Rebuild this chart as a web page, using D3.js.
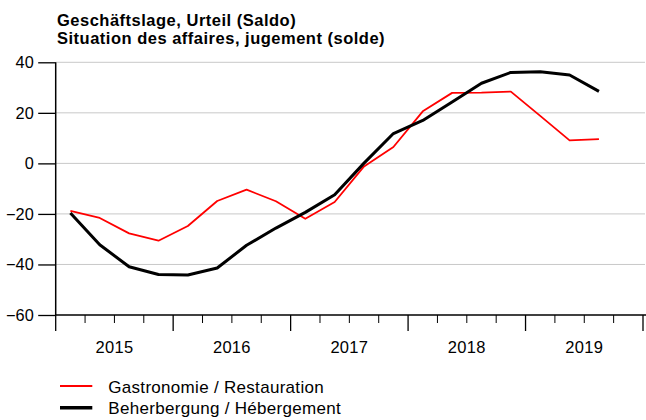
<!DOCTYPE html>
<html><head><meta charset="utf-8">
<script src="https://cdn.jsdelivr.net/npm/d3@7"></script>
<style>body{margin:0;background:#fff;}svg text{font-family:"Liberation Sans",Arial,sans-serif;}</style>
</head><body>
<svg id="c" width="646" height="420"></svg>
<script>
const quarters = ["2015Q1","2015Q2","2015Q3","2015Q4","2016Q1","2016Q2","2016Q3","2016Q4","2017Q1","2017Q2","2017Q3","2017Q4","2018Q1","2018Q2","2018Q3","2018Q4","2019Q1","2019Q2","2019Q3"];
const gastronomie = [-18.8,-21.6,-27.7,-30.6,-24.8,-14.9,-10.4,-15.0,-21.9,-15.3,-1.2,6.5,20.6,27.9,28.0,28.4,18.8,9.1,9.6];
const beherbergung = [-19.6,-32.2,-40.9,-44.0,-44.2,-41.4,-32.4,-25.6,-19.4,-12.4,0.1,11.8,17.0,24.3,31.7,36.0,36.3,35.0,28.5];
const years = ["2015","2016","2017","2018","2019"];
const yTicks = [40,20,0,-20,-40,-60];
const seriesNames = ["Gastronomie / Restauration","Beherbergung / Hébergement"];
const titleLines = ["Geschäftslage, Urteil (Saldo)","Situation des affaires, jugement (solde)"];

const svg = d3.select("#c");
const x0 = 55.7, x1 = 643, yTop = 62.3, yBot = 315;
const x = d3.scaleLinear().domain([0, 20]).range([x0, x1]);
const y = d3.scaleLinear().domain([-60, 40]).range([yBot, yTop]);

// title
svg.append("g").selectAll("text").data(titleLines).join("text")
  .attr("x", 57).attr("y", (d,i)=>25.5 + i*18.8)
  .style("font-size", "16.5px").style("letter-spacing","0.5px").style("font-weight", "bold")
  .attr("fill","#000").text(d=>d);

// gridlines
svg.append("g").selectAll("line").data(yTicks.filter(t=>t>-60)).join("line")
  .attr("x1", x0).attr("x2", 645).attr("y1", d=>y(d)).attr("y2", d=>y(d))
  .attr("stroke", "#c8c8c8").attr("stroke-width", 1);

// y axis
const yAxis = d3.axisLeft(y).tickValues(yTicks).tickSize(17.5).tickPadding(4.5)
  .tickFormat(d => d < 0 ? "\u2212" + Math.abs(d) : d);
const gy = svg.append("g").attr("transform", `translate(${x0},0)`).call(yAxis);
gy.select(".domain").remove();
gy.selectAll(".tick line").attr("stroke","#000").attr("stroke-width",1.3);
gy.selectAll(".tick text").style("font-size", "16.3px").attr("fill","#000")
  .style("font-family","Liberation Sans, Arial, sans-serif");
svg.append("line").attr("x1",x0).attr("x2",x0).attr("y1",yTop).attr("y2",yBot).attr("stroke","#000").attr("stroke-width",1.5);

// x axis
svg.append("line").attr("x1",x0).attr("x2",646).attr("y1",yBot).attr("y2",yBot).attr("stroke","#000").attr("stroke-width",1.5);
const qTicks = d3.range(0, 21);
svg.append("g").selectAll("line").data(qTicks).join("line")
  .attr("x1", d=>x(d)).attr("x2", d=>x(d))
  .attr("y1", yBot).attr("y2", d=> d%4===0 ? yBot+16 : yBot+8)
  .attr("stroke","#000").attr("stroke-width", d=> d%4===0 ? 1.3 : 1);
svg.append("g").selectAll("text").data(years).join("text")
  .attr("x", (d,i)=>x(i*4+2)).attr("y", 353.3).attr("text-anchor","middle")
  .style("font-size", "16.5px").style("letter-spacing","0.3px").attr("fill","#000").text(d=>d);

// lines
const line = d3.line().x((d,i)=>x(i+0.5)).y(d=>y(d));
svg.append("path").datum(gastronomie).attr("d", line).attr("fill","none")
  .attr("stroke","#ff0000").attr("stroke-width",1.8).attr("stroke-linejoin","round");
svg.append("path").datum(beherbergung).attr("d", line).attr("fill","none")
  .attr("stroke","#000").attr("stroke-width",3).attr("stroke-linejoin","round");

// legend
const colors = ["#ff0000","#000"];
const widths = [1.8,3.4];
const lg = svg.append("g");
seriesNames.forEach((n,i)=>{
  const yy = 386 + i*21.7;
  lg.append("line").attr("x1",60).attr("x2",92.3).attr("y1",yy).attr("y2",yy)
    .attr("stroke",colors[i]).attr("stroke-width",widths[i]);
  lg.append("text").attr("x",108.3).attr("y",yy+6.6).style("font-size","17px")
    .style("letter-spacing","0.3px").attr("fill","#000").text(n);
});
</script>
</body></html>
